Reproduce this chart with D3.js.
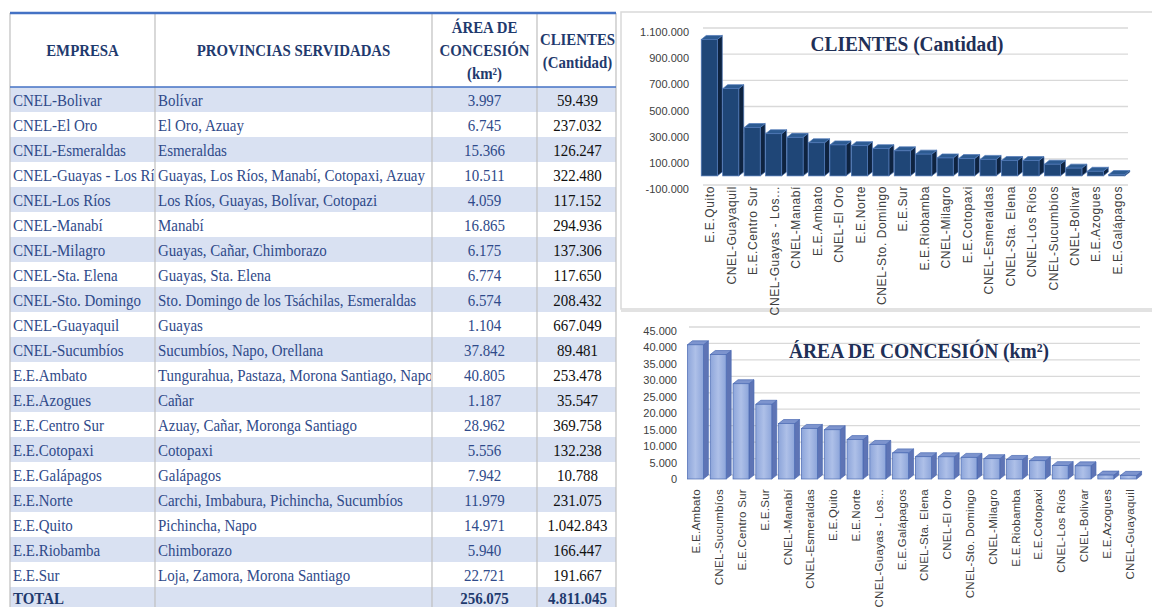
<!DOCTYPE html>
<html>
<head>
<meta charset="utf-8">
<script src="https://cdn.jsdelivr.net/npm/d3@7"></script>
<style>
  body { margin: 0; background: #fff; }
  svg { display: block; }
</style>
</head>
<body>
<div id="main"></div>
<script>
// datos de la tabla
var empresas = ["CNEL-Bolivar", "CNEL-El Oro", "CNEL-Esmeraldas", "CNEL-Guayas - Los Ríos", "CNEL-Los Ríos",
  "CNEL-Manabí", "CNEL-Milagro", "CNEL-Sta. Elena", "CNEL-Sto. Domingo", "CNEL-Guayaquil", "CNEL-Sucumbíos",
  "E.E.Ambato", "E.E.Azogues", "E.E.Centro Sur", "E.E.Cotopaxi", "E.E.Galápagos", "E.E.Norte", "E.E.Quito",
  "E.E.Riobamba", "E.E.Sur"];
var provincias = ["Bolívar", "El Oro, Azuay", "Esmeraldas", "Guayas, Los Ríos, Manabí, Cotopaxi, Azuay",
  "Los Ríos, Guayas, Bolívar, Cotopazi", "Manabí", "Guayas, Cañar, Chimborazo", "Guayas, Sta. Elena",
  "Sto. Domingo de los Tsáchilas, Esmeraldas", "Guayas", "Sucumbíos, Napo, Orellana",
  "Tungurahua, Pastaza, Morona Santiago, Napo", "Cañar", "Azuay, Cañar, Moronga Santiago", "Cotopaxi",
  "Galápagos", "Carchi, Imbabura, Pichincha, Sucumbíos", "Pichincha, Napo", "Chimborazo",
  "Loja, Zamora, Morona Santiago"];
var area = [3997, 6745, 15366, 10511, 4059, 16865, 6175, 6774, 6574, 1104, 37842, 40805, 1187, 28962, 5556,
  7942, 11979, 14971, 5940, 22721];
var clientes = [59439, 237032, 126247, 322480, 117152, 294936, 137306, 117650, 208432, 667049, 89481, 253478,
  35547, 369758, 132238, 10788, 231075, 1042843, 166447, 191667];
var totalArea = 256075;
var totalClientes = 4811045;

var ticksClientes = [-100000, 100000, 300000, 500000, 700000, 900000, 1100000];
var ticksArea = [0, 5000, 10000, 15000, 20000, 25000, 30000, 35000, 40000, 45000];

var width = 1152, height = 607;
var es = d3.formatLocale({decimal: ",", thousands: ".", grouping: [3], currency: ["", ""], minus: "-"});
var fmt = es.format(",d");

var svg = d3.select("#main").append("svg")
  .attr("width", width)
  .attr("height", height);

var defs = svg.append("defs");

// ---------------- tabla ----------------
var cols = [10, 155, 432, 537, 616];
var serif = "'Liberation Serif', 'Times New Roman', serif";
var azulTexto = "#2F4A8A";
var azulHead = "#1F3A6E";

var rowY = d3.scaleBand().domain(d3.range(empresas.length + 1)).range([87, 612]);

var tabla = svg.append("g");

tabla.selectAll("rect.fila").data(d3.range(empresas.length + 1))
  .join("rect")
  .attr("class", "fila")
  .attr("x", cols[0])
  .attr("y", i => rowY(i))
  .attr("width", cols[4] - cols[0])
  .attr("height", rowY.bandwidth())
  .attr("fill", i => (i % 2 == 0 || i == empresas.length) ? "#D9E1F2" : "#ffffff");

[0, 1].forEach(c => {
  defs.append("clipPath").attr("id", "clip" + c)
    .append("rect")
    .attr("x", cols[c] + 1).attr("y", 80)
    .attr("width", cols[c + 1] - cols[c] - 2).attr("height", 530);
});

function celda(parent, x, y, txt, opts) {
  var g = parent.append("g")
    .attr("transform", "translate(" + x + "," + y + ") scale(" + (opts.sx || 0.88) + ",1)");
  g.append("text")
    .attr("text-anchor", opts.anchor || "start")
    .style("font-family", serif)
    .style("font-size", (opts.size || 17) + "px")
    .style("font-weight", opts.bold ? "bold" : "normal")
    .attr("fill", opts.color || azulTexto)
    .text(txt);
}

var c0 = tabla.append("g").attr("clip-path", "url(#clip0)");
var c1 = tabla.append("g").attr("clip-path", "url(#clip1)");
empresas.forEach((e, i) => {
  var by = rowY(i) + rowY.bandwidth() / 2 + 6;
  celda(c0, cols[0] + 3, by, e, {});
  celda(c1, cols[1] + 3, by, provincias[i], {});
  celda(tabla, (cols[2] + cols[3]) / 2, by, fmt(area[i]), {anchor: "middle"});
  celda(tabla, (cols[3] + cols[4]) / 2 + 1, by, fmt(clientes[i]), {anchor: "middle", color: "#111"});
});
var byT = rowY(empresas.length) + rowY.bandwidth() / 2 + 4;
celda(tabla, cols[0] + 3, byT, "TOTAL", {bold: true, color: azulHead});
celda(tabla, (cols[2] + cols[3]) / 2, byT, fmt(totalArea), {bold: true, anchor: "middle", color: azulHead});
celda(tabla, (cols[3] + cols[4]) / 2 + 1, byT, fmt(totalClientes), {bold: true, anchor: "middle", color: azulHead});

// encabezado
var hopt = {bold: true, anchor: "middle", color: azulHead, sx: 0.9, size: 16.5};
celda(tabla, (cols[0] + cols[1]) / 2, 56, "EMPRESA", hopt);
celda(tabla, (cols[1] + cols[2]) / 2, 56, "PROVINCIAS SERVIDADAS", hopt);
celda(tabla, (cols[2] + cols[3]) / 2, 33, "ÁREA DE", hopt);
celda(tabla, (cols[2] + cols[3]) / 2, 56, "CONCESIÓN", hopt);
celda(tabla, (cols[2] + cols[3]) / 2, 79, "(km²)", hopt);
celda(tabla, (cols[3] + cols[4]) / 2 + 1, 45, "CLIENTES", hopt);
celda(tabla, (cols[3] + cols[4]) / 2 + 1, 68, "(Cantidad)", hopt);

tabla.selectAll("line.v").data(cols)
  .join("line")
  .attr("x1", d => d).attr("x2", d => d)
  .attr("y1", 13).attr("y2", height)
  .attr("stroke", "#BFBFBF").attr("stroke-width", 1.2);
tabla.append("line")
  .attr("x1", cols[0]).attr("x2", cols[4]).attr("y1", 13).attr("y2", 13)
  .attr("stroke", "#4472C4").attr("stroke-width", 2.5);
tabla.append("line")
  .attr("x1", cols[0]).attr("x2", cols[4]).attr("y1", 87).attr("y2", 87)
  .attr("stroke", "#4472C4").attr("stroke-width", 1.5);

// ---------------- graficos ----------------
svg.append("rect").attr("x", 621).attr("y", 12).attr("width", 540).attr("height", 297)
  .attr("fill", "none").attr("stroke", "#D9D9D9").attr("stroke-width", 1.5);
svg.append("line").attr("x1", 621).attr("x2", width).attr("y1", 311).attr("y2", 311)
  .attr("stroke", "#D9D9D9").attr("stroke-width", 1.5);

var grad = defs.append("linearGradient").attr("id", "gArea").attr("x1", 0).attr("x2", 1).attr("y1", 0).attr("y2", 0);
grad.append("stop").attr("offset", "0%").attr("stop-color", "#8DA5DA");
grad.append("stop").attr("offset", "50%").attr("stop-color", "#AEC0E8");
grad.append("stop").attr("offset", "100%").attr("stop-color", "#8DA5DA");

function etiqueta(n) {
  return n.length > 20 ? n.slice(0, 17) + "..." : n;
}

function chart(cfg) {
  var data = empresas.map((e, i) => ({name: e, value: cfg.values[i]}));
  data = d3.sort(data, (a, b) => d3.descending(a.value, b.value));

  var x = d3.scaleBand().domain(data.map(d => d.name))
    .range(cfg.xr).paddingInner(cfg.pad).paddingOuter(0.15);
  var y = d3.scaleLinear().domain(cfg.domain).range(cfg.yr);
  var dx = 5, dy = 4;
  var g = svg.append("g");

  g.selectAll("line.grid").data(cfg.ticks)
    .join("line")
    .attr("x1", cfg.xr[0] + dx).attr("x2", cfg.xr[1])
    .attr("y1", d => y(d) - dy).attr("y2", d => y(d) - dy)
    .attr("stroke", "#D9D9D9").attr("stroke-width", 1.3);

  var yAxis = d3.axisLeft(y).tickValues(cfg.ticks).tickFormat(fmt).tickSize(0).tickPadding(0);
  var ya = g.append("g").attr("transform", "translate(" + cfg.axisX + ",0)").call(yAxis);
  ya.select(".domain").remove();
  ya.selectAll("text")
    .style("font-family", "'Liberation Sans', Arial, sans-serif")
    .style("font-size", "11px")
    .attr("fill", "#404040");

  g.append("g")
    .attr("transform", "translate(" + cfg.titleX + "," + cfg.titleY + ") scale(" + cfg.titleSx + ",1)")
    .append("text")
    .attr("text-anchor", "middle")
    .style("font-family", serif)
    .style("font-weight", "bold")
    .style("font-size", cfg.titleSize + "px")
    .attr("fill", "#1F3057")
    .text(cfg.title);

  var b = g.selectAll("g.bar").data(data).join("g").attr("class", "bar");
  var w = x.bandwidth();
  b.append("path")
    .attr("d", d => {
      var x0 = x(d.name) + w, y0 = y(0), y1 = y(d.value);
      return "M" + x0 + "," + y1 + "L" + (x0 + dx) + "," + (y1 - dy) + "L" + (x0 + dx) + "," + (y0 - dy) + "L" + x0 + "," + y0 + "Z";
    })
    .attr("fill", cfg.side).attr("stroke", cfg.edge).attr("stroke-width", 0.7);
  b.append("path")
    .attr("d", d => {
      var x0 = x(d.name), y1 = y(d.value);
      return "M" + x0 + "," + y1 + "L" + (x0 + dx) + "," + (y1 - dy) + "L" + (x0 + w + dx) + "," + (y1 - dy) + "L" + (x0 + w) + "," + y1 + "Z";
    })
    .attr("fill", cfg.top).attr("stroke", cfg.edge).attr("stroke-width", 0.7);
  b.append("rect")
    .attr("x", d => x(d.name))
    .attr("y", d => y(d.value))
    .attr("width", w)
    .attr("height", d => y(0) - y(d.value))
    .attr("fill", cfg.front).attr("stroke", cfg.edge).attr("stroke-width", 0.7);

  g.selectAll("text.lab").data(data)
    .join("text")
    .attr("class", "lab")
    .attr("transform", d => "translate(" + (x(d.name) + w / 2 + 1) + "," + cfg.labelY + ") rotate(-90)")
    .attr("text-anchor", "end")
    .attr("dy", "0.35em")
    .style("font-family", "'Liberation Sans', Arial, sans-serif")
    .style("font-size", cfg.labelSize + "px")
    .style("letter-spacing", cfg.spacing + "px")
    .attr("fill", "#404040")
    .text(d => etiqueta(d.name));
}

chart({
  values: clientes, ticks: ticksClientes, domain: [-100000, 1100000], yr: [189, 32],
  xr: [698, 1128], pad: 0.25, axisX: 689, labelY: 186, spacing: 0.6, labelSize: 12,
  title: "CLIENTES  (Cantidad)", titleX: 907, titleY: 51, titleSize: 21.5, titleSx: 0.9,
  front: "#1F4677", side: "#0E2340", top: "#2D5B92", edge: "#4F78B8"
});

chart({
  values: area, ticks: ticksArea, domain: [0, 45000], yr: [479, 331],
  xr: [684, 1140], pad: 0.3, axisX: 677, labelY: 489, spacing: 0.3, labelSize: 11.5,
  title: "ÁREA DE CONCESIÓN  (km²)", titleX: 919, titleY: 358, titleSize: 21, titleSx: 0.93,
  front: "url(#gArea)", side: "#5E74B5", top: "#7D94CE", edge: "#4A6AB3"
});
</script>
</body>
</html>
